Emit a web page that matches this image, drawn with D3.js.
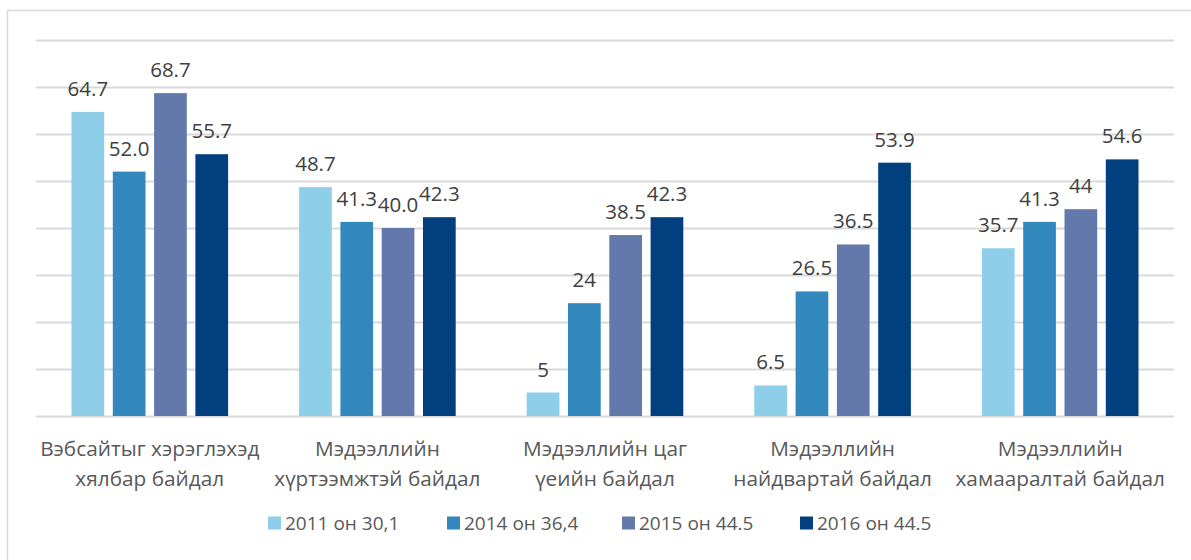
<!DOCTYPE html>
<html>
<head>
<meta charset="utf-8">
<script src="https://cdn.jsdelivr.net/npm/d3@7"></script>
<style>
  body { margin: 0; background: #fff; }
  svg { display: block; font-family: "Open Sans", "Noto Sans", sans-serif; }
</style>
</head>
<body>
<div id="chart"></div>
<script>
// data
var categories = [
    ["Вэбсайтыг хэрэглэхэд", "хялбар байдал"],
    ["Мэдээллийн", "хүртээмжтэй байдал"],
    ["Мэдээллийн цаг", "үеийн байдал"],
    ["Мэдээллийн", "найдвартай байдал"],
    ["Мэдээллийн", "хамааралтай байдал"]
];
var seriesNames = ["2011 он 30,1", "2014 он 36,4", "2015 он 44.5", "2016 он 44.5"];
var values2011 = [64.7, 48.7, 5, 6.5, 35.7];
var values2014 = [52.0, 41.3, 24, 26.5, 41.3];
var values2015 = [68.7, 40.0, 38.5, 36.5, 44];
var values2016 = [55.7, 42.3, 42.3, 53.9, 54.6];
var labels2011 = ["64.7", "48.7", "5", "6.5", "35.7"];
var labels2014 = ["52.0", "41.3", "24", "26.5", "41.3"];
var labels2015 = ["68.7", "40.0", "38.5", "36.5", "44"];
var labels2016 = ["55.7", "42.3", "42.3", "53.9", "54.6"];
var yTicks = [0, 10, 20, 30, 40, 50, 60, 70, 80];

var colors = ["#8fcee9", "#3287bd", "#6479ab", "#013f7f"];

var width = 1191, height = 560;
var allValues = [values2011, values2014, values2015, values2016];
var allLabels = [labels2011, labels2014, labels2015, labels2016];

var svg = d3.select("#chart").append("svg")
    .attr("width", width)
    .attr("height", height);

// outer frame
svg.append("rect")
    .attr("x", 7.5).attr("y", 10.5)
    .attr("width", 1200).attr("height", 600)
    .attr("fill", "none")
    .attr("stroke", "#d9d9d9")
    .attr("stroke-width", 1.5);

var plotLeft = 36, plotRight = 1174, plotTop = 40, plotBottom = 416;

var y = d3.scaleLinear().domain([0, 80]).range([plotBottom, plotTop]);

var x0 = d3.scaleBand()
    .domain(d3.range(categories.length))
    .range([plotLeft, plotRight]);

var groupPad = 35.5;
var x1 = d3.scaleBand()
    .domain(d3.range(seriesNames.length))
    .range([groupPad, x0.bandwidth() - groupPad])
    .paddingInner(0.208);

// gridlines
svg.append("g").selectAll("line")
    .data(yTicks).enter().append("line")
    .attr("x1", plotLeft).attr("x2", plotRight)
    .attr("y1", function(d){ return Math.round(y(d)) + 0.5; })
    .attr("y2", function(d){ return Math.round(y(d)) + 0.5; })
    .attr("stroke", "#d9d9d9")
    .attr("stroke-width", 2);

// build flat list of bars
var bars = [];
categories.forEach(function(c, ci){
    allValues.forEach(function(vals, si){
        bars.push({ci: ci, si: si, v: vals[ci], label: allLabels[si][ci]});
    });
});

svg.append("g").selectAll("rect")
    .data(bars).enter().append("rect")
    .attr("x", function(d){ return x0(d.ci) + x1(d.si); })
    .attr("y", function(d){ return y(d.v); })
    .attr("width", x1.bandwidth())
    .attr("height", function(d){ return y(0) - y(d.v); })
    .attr("fill", function(d){ return colors[d.si]; });

// value labels
svg.append("g").selectAll("text")
    .data(bars).enter().append("text")
    .attr("x", function(d){ return x0(d.ci) + x1(d.si) + x1.bandwidth() / 2; })
    .attr("y", function(d){ return y(d.v) - 24; })
    .attr("text-anchor", "middle")
    .attr("dominant-baseline", "central")
    .attr("font-size", 20.5)
    .attr("fill", "#404040")
    .text(function(d){ return d.label; });

// category labels
var catG = svg.append("g").selectAll("text")
    .data(categories).enter().append("text")
    .attr("text-anchor", "middle")
    .attr("font-size", 20.8)
    .attr("fill", "#595959");

catG.each(function(d, i){
    var t = d3.select(this);
    var cx = x0(i) + x0.bandwidth() / 2;
    d.forEach(function(line, li){
        t.append("tspan")
            .attr("x", cx)
            .attr("y", 448 + li * 30)
            .attr("dominant-baseline", "central")
            .text(line);
    });
});

// legend (item x positions)
var legendX = [268, 447, 622, 800];
var items = svg.append("g").selectAll("g")
    .data(seriesNames).enter().append("g")
    .attr("transform", function(d, i){ return "translate(" + legendX[i] + ",523)"; });

items.append("rect")
    .attr("width", 13).attr("height", 13)
    .attr("y", -6.5)
    .attr("fill", function(d, i){ return colors[i]; });

items.append("text")
    .attr("x", 17)
    .attr("dominant-baseline", "central")
    .attr("font-size", 19)
    .attr("fill", "#595959")
    .text(function(d){ return d; });
</script>
</body>
</html>
